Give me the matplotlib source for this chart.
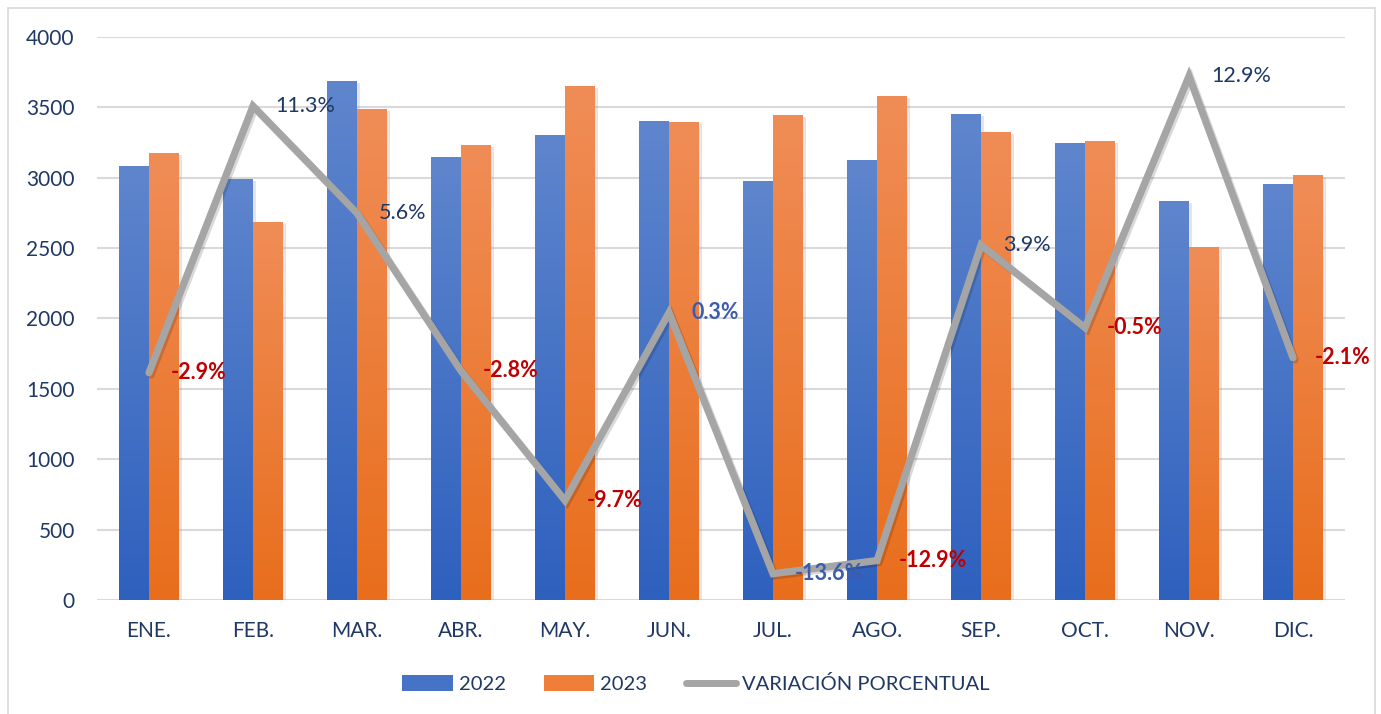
import numpy as np
import matplotlib
matplotlib.use("Agg")
import matplotlib.pyplot as plt
import matplotlib.patheffects as pe
from matplotlib.colors import LinearSegmentedColormap
from matplotlib.lines import Line2D
from matplotlib.patches import Patch

# ---- data ----
months = ["ENE.", "FEB.", "MAR.", "ABR.", "MAY.", "JUN.", "JUL.", "AGO.", "SEP.", "OCT.", "NOV.", "DIC."]
v2022 = [3082, 2990, 3686, 3146, 3303, 3402, 2976, 3125, 3452, 3246, 2834, 2955]
v2023 = [3172, 2685, 3487, 3232, 3651, 3395, 3445, 3580, 3324, 3260, 2507, 3018]
variacion = [-2.9, 11.3, 5.6, -2.8, -9.7, 0.3, -13.6, -12.9, 3.9, -0.5, 12.9, -2.1]
yticks = [0, 500, 1000, 1500, 2000, 2500, 3000, 3500, 4000]

NAVY = "#1F3864"
RED = "#C00000"
STEEL = "#3A5DAE"
GRAY = "#A5A5A5"
FONT = ["Lato", "DejaVu Sans"]
plt.rcParams["font.family"] = FONT

fig = plt.figure(figsize=(13.81, 7.14), dpi=100)
W, H = 1381, 714
ax = fig.add_axes([97 / W, 1 - 600 / H, (1345 - 97) / W, (600 - 36.7) / H])

x = np.arange(len(months))
bw = 0.288

blue_cmap = LinearSegmentedColormap.from_list("b", ["#2E60BE", "#5F86CD"])
orange_cmap = LinearSegmentedColormap.from_list("o", ["#E86E1C", "#F08D57"])
grad = np.linspace(0, 1, 256).reshape(-1, 1)

shadow = [pe.SimplePatchShadow(offset=(2, -1.5), shadow_rgbFace="#9A9A9A", alpha=0.25), pe.Normal()]

def grad_bars(xs, vals, cmap, base_color):
    bars = ax.bar(xs, vals, width=bw, color=base_color, zorder=2, path_effects=shadow)
    for b in bars:
        x0, y0 = b.get_x(), b.get_y()
        w, h = b.get_width(), b.get_height()
        im = ax.imshow(grad, cmap=cmap, origin="lower", aspect="auto",
                       extent=[x0, x0 + w, y0, y0 + h], zorder=2.1, interpolation="bilinear")
        im.set_clip_path(b)
    return bars

grad_bars(x - bw / 2, v2022, blue_cmap, "#2E60BE")
grad_bars(x + bw / 2, v2023, orange_cmap, "#E86E1C")

ax.set_xlim(-0.5, len(months) - 0.5)
ax.set_ylim(0, 4000)
ax.set_yticks(yticks)
ax.set_yticklabels([str(t) for t in yticks])
ax.set_xticks(x)
ax.set_xticklabels(months)
ax.grid(axis="y", color="#D9D9D9", linewidth=1.5, zorder=0)
ax.set_axisbelow(True)
for s in ax.spines.values():
    s.set_visible(False)
ax.tick_params(axis="both", length=0, labelsize=15, labelcolor=NAVY)
ax.tick_params(axis="y", pad=16)
ax.tick_params(axis="x", pad=15)

# secondary axis for percentage variation
ax2 = ax.twinx()
ax2.set_ylim(-0.15, 0.15)
ax2.axis("off")
var_frac = [v / 100 for v in variacion]
ax2.plot(x, var_frac, color=GRAY, linewidth=5.2, solid_joinstyle="miter", solid_capstyle="round",
         zorder=3, path_effects=[pe.SimpleLineShadow(offset=(1.5, -1.5), shadow_color="#000000", alpha=0.15), pe.Normal()])

for xi, v, vf in zip(x, variacion, var_frac):
    txt = f"{v:.1f}%"
    if v < 0 and v > -13:
        color, weight = RED, "bold"
    elif v == -13.6:
        color, weight = STEEL, "bold"
    elif abs(v) < 1:
        color, weight = STEEL, "bold"
    else:
        color, weight = NAVY, "normal"
    ax2.annotate(txt, (xi, vf), xytext=(22, 0), textcoords="offset pixels",
                 ha="left", va="center", fontsize=15.5, color=color, fontweight=weight, zorder=4)

# legend
handles = [Patch(facecolor="#4673C6", label="2022"),
           Patch(facecolor="#EE7E38", label="2023"),
           Line2D([0], [0], color=GRAY, linewidth=5, solid_capstyle="round", label="VARIACIÓN PORCENTUAL")]
leg = fig.legend(handles=handles, loc="center", bbox_to_anchor=(696 / W, 1 - 684 / H), ncol=3,
                 frameon=False, fontsize=14.5, labelcolor=NAVY, handlelength=2.5, handleheight=0.85,
                 handletextpad=0.3, columnspacing=1.9)

# chart border
border = plt.Rectangle((8 / W, -0.01), (1375 - 8) / W, 1 - 8 / H + 0.01, transform=fig.transFigure,
                       fill=False, edgecolor="#D9D9D9", linewidth=1.2)
fig.patches.append(border)

fig.savefig("out.png", dpi=100)
